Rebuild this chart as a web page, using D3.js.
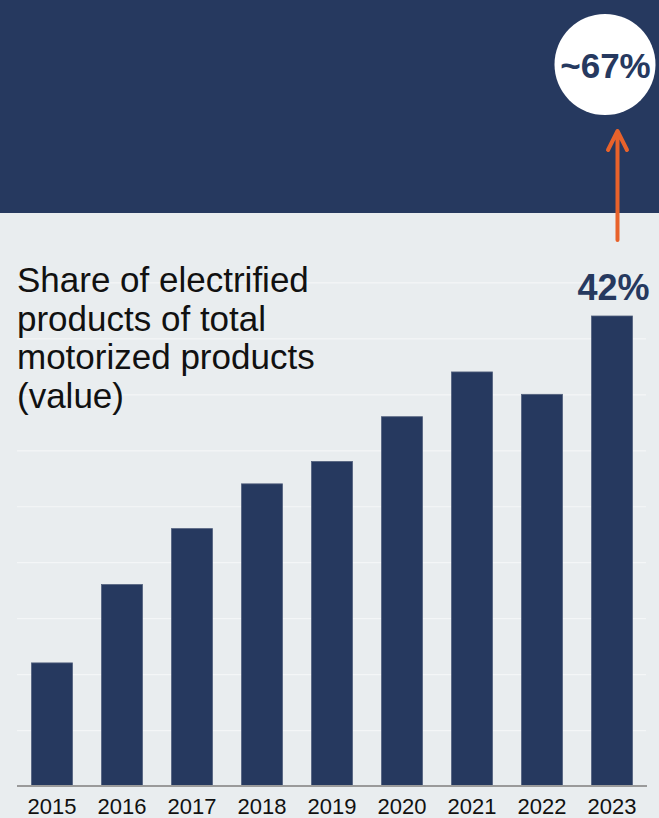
<!DOCTYPE html>
<html>
<head>
<meta charset="utf-8">
<script src="https://cdn.jsdelivr.net/npm/d3@7"></script>
<style>
  html, body { margin: 0; padding: 0; background: #e9edef; }
  svg { display: block; font-family: "Liberation Sans", Arial, sans-serif; }
</style>
</head>
<body>
<svg id="chart" width="659" height="818"></svg>
<script>
// chart data
const years = ["2015", "2016", "2017", "2018", "2019", "2020", "2021", "2022", "2023"];
const shares = [11, 18, 23, 27, 29, 33, 37, 35, 42];
const gridTicks = [5, 10, 15, 20, 25, 30, 35, 40, 45];
const titleLines = ["Share of electrified", "products of total", "motorized products", "(value)"];
const lastLabel = "42%";
const targetLabel = "~67%";

const W = 659, H = 818;
const navy = "#26395f";
const orange = "#e8622b";

const svg = d3.select("#chart");

// dark band on top
svg.append("rect")
  .attr("x", 0).attr("y", 0)
  .attr("width", W).attr("height", 213)
  .attr("fill", navy);

const x = d3.scaleBand()
  .domain(years)
  .range([17, 647])
  .paddingInner(0.414)
  .paddingOuter(0.207);

const y = d3.scaleLinear()
  .domain([0, 42])
  .range([786, 316]);

// faint gridlines
svg.append("g")
  .attr("transform", "translate(17,0)")
  .call(d3.axisLeft(y).tickValues(gridTicks).tickSize(-629).tickFormat(""))
  .call(g => g.select(".domain").remove())
  .call(g => g.selectAll(".tick line").attr("stroke", "#f4f6f7").attr("stroke-width", 1.2));

// title
svg.append("text")
  .attr("x", 17).attr("y", 292)
  .attr("font-size", 35)
  .attr("fill", "#111")
  .selectAll("tspan")
  .data(titleLines)
  .join("tspan")
  .attr("x", 17)
  .attr("dy", (d, i) => i === 0 ? 0 : 38.7)
  .text(d => d);

// bars
svg.append("g")
  .selectAll("rect")
  .data(shares)
  .join("rect")
  .attr("x", (d, i) => x(years[i]))
  .attr("y", d => y(d))
  .attr("width", x.bandwidth())
  .attr("height", d => y(0) - y(d))
  .attr("fill", navy)
  .attr("stroke", "#52607d")
  .attr("stroke-width", 0.8);

// x axis
const xAxis = svg.append("g")
  .attr("transform", "translate(0," + y(0) + ")")
  .call(d3.axisBottom(x).tickSize(0));
xAxis.select(".domain")
  .attr("d", "M17,0H647")
  .attr("stroke", "#9a9a9a")
  .attr("stroke-width", 2);
xAxis.selectAll("text")
  .attr("font-size", 22)
  .attr("fill", "#111")
  .attr("y", 28)
  .attr("dy", 0);

// value label on the last bar
const lastYear = years[years.length - 1];
const cx = x(lastYear) + x.bandwidth() / 2;
svg.append("text")
  .attr("x", cx + 1.5)
  .attr("y", y(shares[shares.length - 1]) - 16)
  .attr("text-anchor", "middle")
  .attr("font-size", 36)
  .attr("font-weight", "bold")
  .attr("fill", navy)
  .text(lastLabel);

// arrow up to the target circle
const ax = cx + 5.5;
svg.append("path")
  .attr("d", "M" + ax + ",240V131 M" + (ax - 9.5) + ",150L" + ax + ",131L" + (ax + 9.5) + ",150")
  .attr("fill", "none")
  .attr("stroke", orange)
  .attr("stroke-width", 4)
  .attr("stroke-linecap", "round")
  .attr("stroke-linejoin", "round");

svg.append("circle")
  .attr("cx", 605).attr("cy", 64.5)
  .attr("r", 50.5)
  .attr("fill", "#fff");

svg.append("text")
  .attr("x", 605.5).attr("y", 78)
  .attr("text-anchor", "middle")
  .attr("font-size", 35)
  .attr("font-weight", "bold")
  .attr("fill", navy)
  .text(targetLabel);
</script>
</body>
</html>
